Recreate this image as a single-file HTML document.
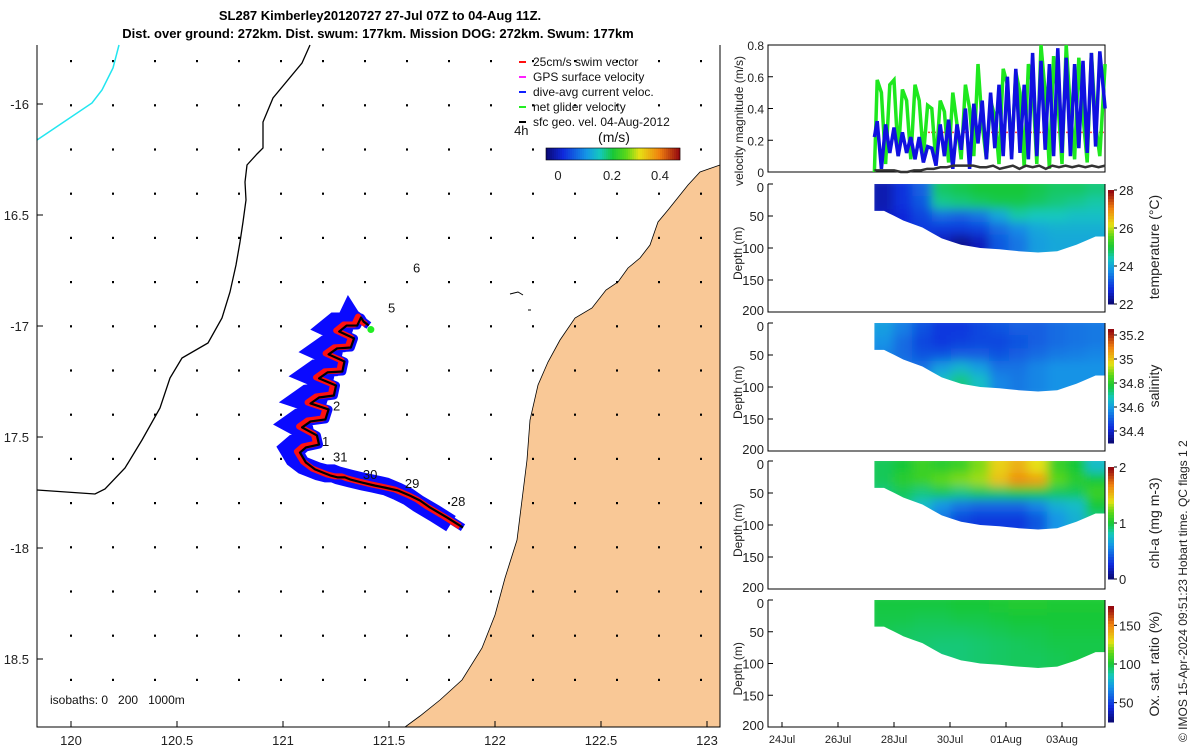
<!DOCTYPE html>
<html><head><meta charset="utf-8">
<style>
html,body{margin:0;padding:0;background:#fff;}
svg{display:block;font-family:"Liberation Sans","DejaVu Sans",sans-serif;}
</style></head>
<body>
<svg id="fig" width="1200" height="750" viewBox="0 0 1200 750" xmlns="http://www.w3.org/2000/svg">
  <defs>
    <filter id="blur" x="-5%" y="-5%" width="110%" height="110%"><feGaussianBlur stdDeviation="5"/></filter>
  </defs>
  <g font-weight="bold" font-size="13" text-anchor="middle" fill="#000">
    <text x="380" y="20">SL287 Kimberley20120727 27-Jul 07Z to 04-Aug 11Z.</text>
    <text x="378" y="38">Dist. over ground: 272km. Dist. swum: 177km. Mission DOG: 272km. Swum: 177km</text>
  </g>
  <g id="map"></g>
  <g id="right"></g>
  <text transform="translate(1187,742) rotate(-90)" font-size="12" fill="#222">© IMOS 15-Apr-2024 09:51:23 Hobart time. QC flags 1  2</text>
</svg>
<script>
// ---------- MAP DATA ----------
const lonTicks=[120,120.5,121,121.5,122,122.5,123];
const latTicks=[-16,-16.5,-17,-17.5,-18,-18.5];
const latTickLabels=["-16","16.5","-17","17.5","-18","18.5"];
// glider track lon/lat
const trackLon=[121.849,121.774,121.694,121.646,121.599,121.542,121.481,121.434,121.373,121.316,121.292,121.259,121.222,121.198,121.151,121.108,121.080,121.108,121.170,121.160,121.090,121.130,121.200,121.215,121.130,121.170,121.240,121.250,121.170,121.210,121.280,121.290,121.215,121.255,121.320,121.335,121.265,121.300,121.350,121.368,121.380,121.405];
const trackLat=[-17.908,-17.863,-17.818,-17.786,-17.764,-17.741,-17.728,-17.719,-17.705,-17.691,-17.682,-17.682,-17.673,-17.664,-17.646,-17.615,-17.570,-17.547,-17.534,-17.493,-17.457,-17.430,-17.421,-17.376,-17.349,-17.322,-17.313,-17.268,-17.236,-17.209,-17.205,-17.160,-17.128,-17.101,-17.097,-17.056,-17.025,-16.998,-16.998,-16.962,-16.980,-16.998];
const dayLabels=["6","5","2","1","31","30","29","28","4h"];
const dayLon=[121.613,121.495,121.236,121.184,121.236,121.377,121.575,121.792,122.090];
const dayLat=[-16.76,-16.94,-17.38,-17.54,-17.61,-17.69,-17.73,-17.81,-16.14];

// ---------- TIME SERIES DATA (t = days since 24-Jul 00:00) ----------
const dayTicks=[0,2,4,6,8,10];
const dayTickLabels=["24Jul","26Jul","28Jul","30Jul","01Aug","03Aug"];
const velT=[3.30,3.40,3.55,3.70,3.85,4.00,4.15,4.30,4.45,4.60,4.75,4.90,5.05,5.20,5.35,5.50,5.65,5.80,5.95,6.10,6.25,6.40,6.55,6.70,6.85,7.00,7.15,7.30,7.45,7.60,7.75,7.90,8.05,8.20,8.35,8.50,8.65,8.80,8.95,9.10,9.25,9.40,9.55,9.70,9.85,10.00,10.15,10.30,10.45,10.60,10.75,10.90,11.05,11.20,11.35,11.54];
const velGreen=[0.00,0.58,0.50,0.05,0.55,0.58,0.10,0.52,0.45,0.08,0.55,0.45,0.10,0.42,0.40,0.05,0.45,0.38,0.06,0.50,0.30,0.08,0.55,0.40,0.10,0.68,0.30,0.08,0.45,0.35,0.05,0.65,0.55,0.10,0.63,0.50,0.03,0.68,0.55,0.05,0.80,0.50,0.02,0.73,0.45,0.05,0.80,0.40,0.08,0.72,0.35,0.06,0.75,0.30,0.10,0.68];
const velBlue=[0.22,0.32,0.02,0.30,0.12,0.28,0.10,0.25,0.12,0.22,0.08,0.22,0.06,0.16,0.15,0.04,0.30,0.10,0.33,0.02,0.30,0.14,0.40,0.02,0.43,0.18,0.45,0.08,0.50,0.15,0.55,0.10,0.60,0.08,0.65,0.12,0.55,0.08,0.75,0.10,0.70,0.14,0.68,0.10,0.78,0.12,0.72,0.10,0.68,0.15,0.70,0.12,0.75,0.16,0.76,0.40];
const velBlack=[0.01,0.01,0.01,0.01,0.00,0.00,0.01,0.01,0.02,0.02,0.03,0.03,0.04,0.04,0.04,0.04,0.03,0.03,0.04,0.02,0.03,0.04,0.02,0.04,0.03,0.04,0.02,0.04,0.03,0.04,0.03,0.04,0.03,0.04,0.03,0.04];
const swimSpeed=0.25;
// sections: 12 columns x 6 depth bins (0-20,...,100-120 m)
const secT=[3.30,3.99,4.67,5.36,6.05,6.74,7.42,8.11,8.80,9.49,10.17,10.86,11.54];
const bottomDepth=[42,57,68,85,95,100,102,105,107,105,95,82];
const tempVals=[[22.4,22.4,22.5,22.5,22.5,22.5],[22.8,22.8,22.7,22.7,22.7,22.7],[23.3,23.2,23.0,22.9,22.9,22.9],[24.8,24.6,23.4,22.9,22.5,22.4],[24.9,24.7,23.3,22.9,22.2,22.1],[25.0,24.8,23.5,23.0,22.5,22.5],[25.0,24.9,24.0,23.4,23.2,23.2],[25.0,24.9,24.5,23.7,23.5,23.5],[24.9,24.8,24.4,24.0,23.9,23.9],[24.8,24.7,24.4,24.1,24.0,24.0],[24.8,24.6,24.3,24.1,24.0,24.0],[24.7,24.5,24.3,24.1,24.0,24.0]];
const salVals=[[34.60,34.58,34.56,34.56,34.56,34.56],[34.55,34.52,34.52,34.54,34.54,34.54],[34.48,34.46,34.48,34.53,34.56,34.56],[34.44,34.44,34.48,34.60,34.66,34.66],[34.44,34.45,34.50,34.64,34.72,34.72],[34.46,34.46,34.50,34.60,34.66,34.66],[34.48,34.46,34.48,34.53,34.56,34.56],[34.50,34.48,34.50,34.53,34.54,34.54],[34.50,34.50,34.52,34.56,34.56,34.56],[34.52,34.52,34.54,34.58,34.58,34.58],[34.53,34.53,34.55,34.58,34.58,34.58],[34.54,34.54,34.56,34.58,34.58,34.58]];
const chlVals=[[0.95,0.95,0.9,0.9,0.9,0.9],[1.0,1.05,0.95,0.9,0.9,0.9],[1.1,1.1,0.9,0.75,0.7,0.7],[1.05,1.2,0.95,0.6,0.5,0.5],[1.1,1.25,0.9,0.5,0.35,0.35],[1.25,1.3,0.95,0.45,0.3,0.3],[1.45,1.5,0.95,0.45,0.3,0.3],[1.55,1.65,1.0,0.45,0.3,0.3],[1.4,1.6,1.0,0.55,0.4,0.4],[1.1,1.2,0.95,0.7,0.6,0.6],[1.0,1.05,0.95,0.75,0.7,0.7],[0.75,1.0,1.1,1.0,0.9,0.9]];
const oxVals=[[99,98,97,96,96,96],[99,98,96,95,95,95],[99,97,95,94,94,94],[99,97,95,93,92,92],[100,98,95,93,93,93],[100,98,96,94,94,94],[101,99,97,95,95,95],[102,100,98,96,96,96],[102,100,98,97,96,96],[101,100,99,98,97,97],[101,100,99,98,98,98],[101,100,99,98,98,98]];
const depthBins=[0,20,40,60,80,100,120];

// ---------- helpers ----------
const NS="http://www.w3.org/2000/svg";
function mk(parent,tag,attrs,text){const e=document.createElementNS(NS,tag);for(const k in attrs)e.setAttribute(k,attrs[k]);if(text!==undefined)e.textContent=text;parent.appendChild(e);return e;}
const cmapStops=[[0,[10,10,120]],[0.12,[15,40,220]],[0.3,[20,150,230]],[0.4,[20,200,190]],[0.5,[25,200,55]],[0.6,[90,215,25]],[0.7,[230,225,20]],[0.85,[240,130,15]],[1,[150,10,15]]];
function cmap(v){v=Math.max(0,Math.min(1,v));for(let i=1;i<cmapStops.length;i++){const a=cmapStops[i-1],b=cmapStops[i];if(v<=b[0]){const f=(v-a[0])/(b[0]-a[0]);const c=a[1].map((x,k)=>Math.round(x+(b[1][k]-x)*f));return `rgb(${c[0]},${c[1]},${c[2]})`;}}return "rgb(150,10,15)";}

// ---------- MAP ----------
const map=document.getElementById('map');
const mx=lon=>71+(lon-120)*212;
const my=lat=>104+(-16-lat)*222;
let land=mk(map,'polygon',{points:"720,165 700,172 688,185 680,195 668,210 658,222 650,245 640,258 628,268 618,282 606,290 592,308 575,318 560,340 548,362 538,385 530,420 527,460 522,500 517,540 505,578 495,615 482,648 462,680 440,700 420,716 405,727 720,727",fill:"#f9c896",stroke:"#000","stroke-width":"0.8"});


let isl=mk(map,'path',{d:"M510,294 l8,-2 l5,3 M528,310 l3,0",stroke:"#000","stroke-width":"1",fill:"none"});


const dots=mk(map,'g',{});


for(let i=0;i<16;i++)for(let j=0;j<16;j++){const x=71+i*42,y=61+j*44.2;if(y>720||x>715)continue;mk(dots,'rect',{x:x-1,y:y-1,width:2,height:2.2,fill:"#000"});}
let iso=mk(map,'polyline',{points:"310,45 302,63 273,98 263,122 263,148 257,154 247,165 245,182 246,200 243,222 240,242 236,265 230,292 222,318 208,343 182,358 170,378 160,408 142,440 125,468 105,489 95,494 37,490",fill:"none",stroke:"#000","stroke-width":"1.3"});


let cy=mk(map,'polyline',{points:"37,140 92,103 102,90 113,68 119,45",fill:"none",stroke:"#22e6f0","stroke-width":"1.5"});


const tpts=trackLon.map((l,i)=>mx(l)+","+my(trackLat[i])).join(" ");
const tg=mk(map,'g',{});


mk(tg,'polyline',{points:trackLon.map((l,i)=>(mx(l)-12)+","+(my(trackLat[i])-4)).join(" "),fill:"none",stroke:"#0a0aff","stroke-width":"18","stroke-linejoin":"miter"});
mk(tg,'polyline',{points:tpts,fill:"none",stroke:"#0a0aff","stroke-width":"8","stroke-linejoin":"round"});
mk(tg,'polyline',{points:trackLon.map((l,i)=>(mx(l)-3)+","+(my(trackLat[i])-1)).join(" "),fill:"none",stroke:"#ff1010","stroke-width":"6","stroke-linejoin":"round"});
mk(tg,'polyline',{points:tpts,fill:"none",stroke:"#000","stroke-width":"2.2","stroke-linejoin":"round"});
mk(tg,'circle',{cx:mx(trackLon[trackLon.length-1])+2,cy:my(trackLat[trackLat.length-1])+4,r:3.5,fill:"#22ee22"});
dayLabels.forEach((s,i)=>{const t=mk(map,'text',{x:mx(dayLon[i]),y:my(dayLat[i]),"font-size":"13",fill:"#111"},s);});
mk(map,'path',{d:"M37,45 V727 H720 V45",fill:"none",stroke:"#000","stroke-width":"1"});
lonTicks.forEach(v=>{const x=mx(v);mk(map,'line',{x1:x,x2:x,y1:727,y2:721,stroke:"#000"});const t=mk(map,'text',{x:x,y:745,"text-anchor":"middle","font-size":"13",fill:"#222"},String(v));});
latTicks.forEach((v,i)=>{const y=my(v);mk(map,'line',{x1:37,x2:43,y1:y,y2:y,stroke:"#000"});const t=mk(map,'text',{x:29,y:y+5,"text-anchor":"end","font-size":"13",fill:"#222"},latTickLabels[i]);});
let isot=mk(map,'text',{x:50,y:704,"font-size":"12",fill:"#111",style:"white-space:pre"},"isobaths: 0   200   1000m");


const lg=mk(map,'g',{"font-size":"12",fill:"#111"});


const legTxt=["25cm/s swim vector","GPS surface velocity","dive-avg current veloc.","net glider velocity","sfc geo. vel. 04-Aug-2012"];
const legCol=["#ff1010","#ff20ff","#1020ff","#22ee22","#000"];
legTxt.forEach((s,i)=>{const y=62+i*15;mk(lg,'line',{x1:519,x2:526,y1:y,y2:y,stroke:legCol[i],"stroke-width":"2"});const t=mk(lg,'text',{x:533,y:y+4},s);});
mk(map,'text',{x:614,y:142,"font-size":"14","text-anchor":"middle",fill:"#111"},"(m/s)");
const cb=mk(map,'g',{});


for(let i=0;i<67;i++)mk(cb,'rect',{x:546+i*2,y:148,width:2.2,height:12,fill:cmap(i/66)});
mk(cb,'rect',{x:546,y:148,width:134,height:12,fill:"none",stroke:"#000","stroke-width":"0.6"});
[["0",558],["0.2",612],["0.4",660]].forEach(a=>mk(cb,'text',{x:a[1],y:180,"font-size":"13","text-anchor":"middle",fill:"#222"},a[0]));

// ---------- RIGHT PANELS ----------
const R=document.getElementById('right');
const px=t=>782+28*t;
const L=768,RR=1105;
function panelFrame(g,y0,y1){mk(g,'path',{d:`M${L},${y0} V${y1} H${RR} V${y0}`,fill:"none",stroke:"#000","stroke-width":"1"});}
const vp=mk(R,'g',{});


const vy=v=>172-v*(127/0.8);
mk(vp,'rect',{x:L,y:45,width:RR-L,height:127,fill:"none",stroke:"#000"});
[0,0.2,0.4,0.6,0.8].forEach(v=>{mk(vp,'line',{x1:L,x2:L+5,y1:vy(v),y2:vy(v),stroke:"#000"});mk(vp,'text',{x:L-4,y:vy(v)+5,"font-size":"12","text-anchor":"end",fill:"#222"},String(v));});
mk(vp,'text',{transform:`translate(743,186) rotate(-90)`,"font-size":"12",fill:"#222"},"velocity magnitude (m/s)");
let sw=mk(vp,'line',{x1:px(5.0),x2:RR,y1:vy(swimSpeed),y2:vy(swimSpeed),stroke:"#ff4040","stroke-width":"1.5","stroke-dasharray":"2,1"});


let gl=mk(vp,'polyline',{points:velT.map((t,i)=>px(t)+","+vy(velGreen[i])).join(" "),fill:"none",stroke:"#1ee81e","stroke-width":"3.5"});


let bl=mk(vp,'polyline',{points:velT.map((t,i)=>px(t)+","+vy(velBlue[i])).join(" "),fill:"none",stroke:"#1010e0","stroke-width":"3.5"});


const bt=velBlack.map((v,i)=>3.3+i*(8.24/(velBlack.length-1)));
let kl=mk(vp,'polyline',{points:bt.map((t,i)=>px(t)+","+vy(velBlack[i])).join(" "),fill:"none",stroke:"#333","stroke-width":"2.5"});



const secs=[
 {name:'temperature',y0:184,y1:312,vals:tempVals,min:22,max:28,ticks:[22,24,26,28],label:"temperature (°C)",cb0:190,cb1:304},
 {name:'salinity',y0:323,y1:451,vals:salVals,min:34.3,max:35.25,ticks:[34.4,34.6,34.8,35,35.2],label:"salinity",cb0:329,cb1:443},
 {name:'chl-a',y0:461,y1:589,vals:chlVals,min:0,max:2,ticks:[0,1,2],label:"chl-a (mg m-3)",cb0:467,cb1:579},
 {name:'oxygen',y0:600,y1:727,vals:oxVals,min:25,max:175,ticks:[50,100,150],label:"Ox. sat. ratio (%)",cb0:606,cb1:722}];
secs.forEach(s=>{
 const g=mk(R,'g',{});
 
 
 const dy=d=>s.y0+d*(s.y1-s.y0)/200;
 const cl=mk(g,'clipPath',{id:'c'+s.name});
 let pts=[];
 for(let i=0;i<bottomDepth.length;i++){pts.push(px(secT[i])+","+dy(i==0?bottomDepth[i]:(bottomDepth[i-1]+bottomDepth[i])/2));pts.push(px((secT[i]+secT[i+1])/2)+","+dy(bottomDepth[i]));}
 pts.push(px(secT[secT.length-1])+","+dy(bottomDepth[bottomDepth.length-1]));
 mk(cl,'polygon',{points:`${px(secT[0])},${s.y0} ${px(secT[secT.length-1])},${s.y0} `+pts.reverse().join(" ")});
 const outer=mk(g,'g',{"clip-path":`url(#c${s.name})`});
 const cells=mk(outer,'g',{filter:"url(#blur)"});
 s.vals.forEach((col,i)=>col.forEach((v,j)=>{
   const x0=px(secT[i])-(i==0?8:0.5), x1=px(secT[i+1])+(i==s.vals.length-1?8:0.5);
   const r=mk(cells,'rect',{x:x0,y:dy(depthBins[j])-(j==0?8:0.5),width:x1-x0,height:dy(depthBins[j+1])-dy(depthBins[j])+(j==0?8.5:1),fill:cmap((v-s.min)/(s.max-s.min))});
   
   
 }));
 panelFrame(g,s.y0,s.y1);
 [0,50,100,150,200].forEach(d=>{mk(g,'line',{x1:L,x2:L+5,y1:dy(d),y2:dy(d),stroke:"#000"});mk(g,'text',{x:L-4,y:dy(d)+(d==0?8:d==200?3:5),"font-size":"13","text-anchor":"end",fill:"#222"},String(d));});
 mk(g,'text',{transform:`translate(742,${(s.y0+s.y1)/2+32}) rotate(-90)`,"font-size":"12",fill:"#222"},"Depth (m)");
 const cbg=mk(g,'g',{});
 
 
 const n=40,h=(s.cb1-s.cb0)/n;
 for(let k=0;k<n;k++)mk(cbg,'rect',{x:1108,y:s.cb1-(k+1)*h,width:6,height:h+0.5,fill:cmap(k/(n-1))});
 const cyf=v=>s.cb1-(v-s.min)/(s.max-s.min)*(s.cb1-s.cb0);
 s.ticks.forEach(v=>{mk(cbg,'line',{x1:1114,x2:1117,y1:cyf(v),y2:cyf(v),stroke:"#000"});mk(cbg,'text',{x:1119,y:cyf(v)+5,"font-size":"13",fill:"#222"},String(v));});
 mk(cbg,'text',{transform:`translate(1159,${(s.cb0+s.cb1)/2}) rotate(-90)`,"font-size":"14","text-anchor":"middle",fill:"#222"},s.label);
});
dayTicks.forEach((d,i)=>{const x=px(d);mk(R,'line',{x1:x,x2:x,y1:727,y2:722,stroke:"#000"});const t=mk(R,'text',{x:x,y:743,"font-size":"11","text-anchor":"middle",fill:"#222"},dayTickLabels[i]);});
</script>
</body></html>
